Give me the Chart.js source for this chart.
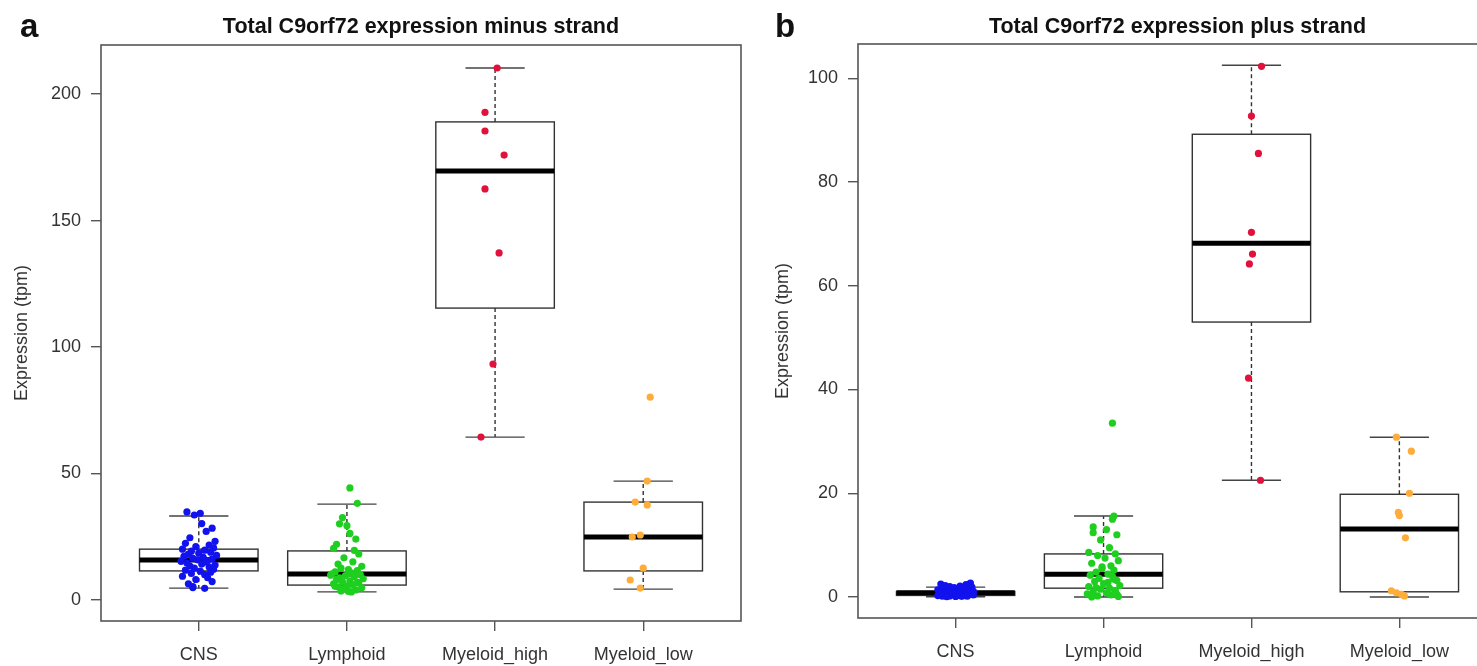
<!DOCTYPE html>
<html>
<head>
<meta charset="utf-8">
<script src="https://cdn.jsdelivr.net/npm/chart.js@4.4.1/dist/chart.umd.min.js"></script>
<style>
  html, body { margin: 0; padding: 0; background: #fff; overflow: hidden; width: 1477px; height: 666px; }
  canvas { position: absolute; top: 0; }
  #minus { left: 0; }
  #plus { left: 750px; }
</style>
</head>
<body>
<canvas id="minus" width="750" height="666"></canvas>
<canvas id="plus" width="775" height="666"></canvas>
<script>
// categories and tick labels
const categories = ["CNS", "Lymphoid", "Myeloid_high", "Myeloid_low"];
const colors = ["#1212EE", "#1FCF1F", "#E0123C", "#FFAD3A"];
const minusTicks = [0, 50, 100, 150, 200];
const plusTicks = [0, 20, 40, 60, 80, 100];

// box statistics, minus strand (per category)
const minusLo = [4.7, 3.2, 64.4, 4.3];
const minusQ1 = [11.5, 5.9, 115.4, 11.5];
const minusMed = [15.8, 10.3, 169.6, 24.9];
const minusQ3 = [20.1, 19.4, 189.0, 38.7];
const minusHi = [33.2, 37.9, 210.3, 47.0];

// box statistics, plus strand
const plusLo = [0.05, 0.0, 22.5, 0.0];
const plusQ1 = [0.3, 1.7, 53.0, 1.0];
const plusMed = [0.8, 4.4, 68.2, 13.1];
const plusQ3 = [1.05, 8.3, 89.2, 19.8];
const plusHi = [1.9, 15.6, 102.5, 30.8];

// sample values, minus strand
const minusCNS = [34.8, 34.3, 33.6, 30.2, 28.4, 27.1, 24.6, 23.2, 22.4, 21.7,
  21.1, 20.6, 20.1, 19.7, 19.3, 18.9, 18.5, 18.1, 17.7, 17.3,
  16.9, 16.5, 16.2, 15.9, 15.6, 15.3, 15.0, 14.6, 14.2, 13.8,
  13.4, 13.0, 12.6, 12.2, 11.8, 11.4, 11.0, 10.5, 10.0, 9.4,
  8.8, 8.1, 7.3, 6.4, 5.3, 4.9, 4.6];
const minusLym = [44.3, 38.2, 32.6, 30.1, 29.4, 26.3, 24.1, 22.0, 20.4, 19.6,
  18.2, 16.7, 15.1, 14.2, 13.3, 12.6, 12.0, 11.6, 11.1, 10.7,
  10.3, 10.0, 9.6, 9.2, 8.8, 8.4, 8.0, 7.6, 7.2, 6.8,
  6.4, 6.0, 5.6, 5.2, 4.8, 4.4, 4.0, 3.6, 3.2, 9.8,
  7.0, 5.4, 3.4];
const minusMyHigh = [210.3, 192.8, 185.4, 175.9, 162.5, 137.2, 93.3, 64.4];
const minusMyLow = [80.2, 47.0, 38.7, 37.6, 25.7, 24.9, 12.6, 7.9, 4.7];

// sample values, plus strand
const plusCNS = [2.7, 2.5, 2.4, 2.2, 2.1, 2.0, 1.9, 1.8, 1.7, 1.6,
  1.5, 1.4, 1.3, 1.2, 1.15, 1.1, 1.05, 1.0, 0.95, 0.9,
  0.88, 0.85, 0.82, 0.8, 0.78, 0.75, 0.72, 0.7, 0.68, 0.65,
  0.6, 0.55, 0.5, 0.45, 0.42, 0.4, 0.35, 0.3, 0.28, 0.25,
  0.2, 0.18, 0.15, 0.12, 0.1, 0.05];
const plusLym = [33.5, 15.6, 15.0, 13.5, 13.0, 12.4, 12.0, 11.0, 9.5, 8.6,
  8.3, 8.0, 7.5, 7.0, 6.5, 6.0, 5.5, 5.2, 4.8, 4.4,
  4.2, 4.0, 3.6, 3.2, 3.0, 2.6, 2.2, 2.0, 1.7, 1.5,
  1.2, 1.0, 0.8, 0.6, 0.4, 0.2, 0.1, 0.0, 2.8, 3.4,
  1.8, 0.5, 5.8];
const plusMyHigh = [102.3, 92.7, 85.5, 70.3, 66.1, 64.2, 42.2, 22.5];
const plusMyLow = [30.8, 28.1, 20.0, 16.3, 15.7, 11.4, 1.2, 0.8, 0.5, 0.2];

// horizontal jitter of each sample (category units)
const jitMinusCNS = [-0.08, 0.01, -0.03, 0.02, 0.09, 0.05, -0.06, 0.11, -0.09, 0.07,
  -0.02, 0.10, -0.11, 0.04, -0.05, 0.08, 0.00, -0.07, 0.12, -0.10,
  0.03, -0.04, 0.09, -0.01, 0.06, -0.12, 0.05, -0.08, 0.02, 0.11,
  -0.06, 0.07, -0.03, 0.10, -0.09, 0.01, 0.08, -0.05, 0.04, -0.11,
  0.06, -0.02, 0.09, -0.07, -0.04, -0.04, 0.04];
const jitMinusLym = [0.02, 0.07, -0.03, -0.05, 0.00, 0.02, 0.06, -0.07, -0.09, 0.05,
  0.08, -0.02, 0.04, -0.06, 0.10, -0.04, 0.01, 0.07, -0.08, 0.03,
  -0.10, 0.09, -0.01, 0.05, -0.05, 0.11, -0.07, 0.02, -0.03, 0.08,
  -0.09, 0.04, 0.00, -0.06, 0.10, -0.02, 0.06, -0.04, 0.03, -0.11,
  0.07, -0.08, 0.01];
const jitMinusMyHigh = [0.014, -0.068, -0.068, 0.061, -0.068, 0.027, -0.014, -0.095];
const jitMinusMyLow = [0.047, 0.027, -0.054, 0.027, -0.020, -0.074, 0.0, -0.088, -0.020];
const jitPlusCNS = [0.10, -0.10, 0.07, -0.07, 0.03, -0.04, 0.11, -0.01, 0.05, -0.08,
  0.09, -0.12, 0.02, 0.06, -0.05, 0.12, -0.09, 0.00, 0.08, -0.03,
  0.04, -0.11, 0.10, -0.06, 0.01, 0.07, -0.02, -0.08, 0.11, 0.03,
  -0.05, 0.09, -0.10, 0.05, -0.01, 0.12, -0.07, 0.02, -0.12, 0.06,
  -0.04, 0.08, -0.09, 0.04, 0.00, -0.06];
const jitPlusLym = [0.06, 0.07, 0.06, -0.07, 0.02, -0.07, 0.09, -0.02, 0.04, -0.10,
  0.08, -0.04, 0.01, 0.10, -0.08, 0.05, -0.01, 0.07, -0.05, 0.03,
  -0.09, 0.06, -0.03, 0.09, -0.06, 0.00, 0.11, -0.10, 0.04, -0.02,
  0.08, -0.07, 0.02, -0.11, 0.05, -0.04, 0.10, -0.08, 0.03, 0.07,
  -0.05, 0.09, -0.01];
const jitPlusMyHigh = [0.068, 0.0, 0.047, 0.0, 0.007, -0.014, -0.020, 0.061];
const jitPlusMyLow = [-0.020, 0.081, 0.068, -0.007, 0.0, 0.041, -0.054, -0.020, 0.014, 0.034];

const FONT = "'Liberation Sans', Arial, Helvetica, sans-serif";
const TEXT = "#333";

function points(values, jitter, idx) {
  return values.map((v, i) => ({ x: idx + 1 + jitter[i], y: v }));
}

// boxes, whiskers and medians, drawn under the points
function boxPlugin(lo, q1, med, q3, hi) {
  return {
    id: "boxes",
    beforeDatasetsDraw(chart) {
      const { ctx } = chart;
      const x = chart.scales.x, y = chart.scales.y;
      ctx.save();
      for (let i = 0; i < categories.length; i++) {
        const c = i + 1;
        const cx = x.getPixelForValue(c);
        const bl = x.getPixelForValue(c - 0.4), br = x.getPixelForValue(c + 0.4);
        const sl = x.getPixelForValue(c - 0.2), sr = x.getPixelForValue(c + 0.2);
        const yLo = y.getPixelForValue(lo[i]), yQ1 = y.getPixelForValue(q1[i]);
        const yMed = y.getPixelForValue(med[i]), yQ3 = y.getPixelForValue(q3[i]);
        const yHi = y.getPixelForValue(hi[i]);

        ctx.strokeStyle = "#333";
        ctx.lineWidth = 1.4;
        ctx.setLineDash([4, 3]);
        ctx.beginPath();
        ctx.moveTo(cx, yQ3); ctx.lineTo(cx, yHi);
        ctx.moveTo(cx, yQ1); ctx.lineTo(cx, yLo);
        ctx.stroke();
        ctx.setLineDash([]);

        ctx.strokeStyle = "#444";
        ctx.beginPath();
        ctx.moveTo(sl, yHi); ctx.lineTo(sr, yHi);
        ctx.moveTo(sl, yLo); ctx.lineTo(sr, yLo);
        ctx.stroke();

        ctx.strokeStyle = "#333";
        ctx.strokeRect(bl, yQ3, br - bl, yQ1 - yQ3);

        ctx.strokeStyle = "#000";
        ctx.lineWidth = 5;
        ctx.beginPath();
        ctx.moveTo(bl, yMed); ctx.lineTo(br, yMed);
        ctx.stroke();
      }
      ctx.restore();
    }
  };
}

// plot frame, main title and panel letter
function framePlugin(letter, letterX, title) {
  return {
    id: "frame",
    afterDraw(chart) {
      const { ctx, chartArea: a } = chart;
      ctx.save();
      ctx.strokeStyle = "#555";
      ctx.lineWidth = 1.6;
      ctx.strokeRect(a.left, a.top, a.right - a.left, a.bottom - a.top);
      ctx.fillStyle = "#111";
      ctx.textBaseline = "alphabetic";
      ctx.textAlign = "center";
      ctx.font = "bold 21.5px " + FONT;
      ctx.fillText(title, (a.left + a.right) / 2, 33);
      ctx.textAlign = "left";
      ctx.font = "bold 33px " + FONT;
      ctx.fillText(letter, letterX, 37);
      ctx.restore();
    }
  };
}

function makeChart(id, opts) {
  const datasets = opts.groups.map((g, i) => ({
    data: points(g[0], g[1], i),
    backgroundColor: colors[i],
    borderWidth: 0,
    pointRadius: 3.6,
    pointHoverRadius: 3.6
  }));
  return new Chart(document.getElementById(id), {
    type: "scatter",
    data: { datasets },
    plugins: [opts.boxes, opts.frame],
    options: {
      responsive: false,
      animation: false,
      events: [],
      layout: { padding: { top: opts.top, right: opts.right, left: 0, bottom: 0 } },
      plugins: { legend: { display: false }, tooltip: { enabled: false } },
      scales: {
        x: {
          type: "linear",
          min: 0.34,
          max: 4.66,
          afterBuildTicks: (s) => { s.ticks = categories.map((c, i) => ({ value: i + 1 })); },
          afterFit: (s) => { s.height = opts.xHeight; },
          border: { display: false },
          grid: { drawOnChartArea: false, drawTicks: true, tickLength: 10, color: "#555", lineWidth: 1.4 },
          ticks: {
            padding: 13,
            color: TEXT,
            font: { family: FONT, size: 18 },
            maxRotation: 0,
            autoSkip: false,
            callback: (v) => categories[Math.round(v) - 1]
          }
        },
        y: {
          min: opts.yMin,
          max: opts.yMax,
          afterBuildTicks: (s) => { s.ticks = opts.yTicks.map((v) => ({ value: v })); },
          afterFit: (s) => { s.width = opts.yWidth; },
          border: { display: false },
          grid: { drawOnChartArea: false, drawTicks: true, tickLength: 10, color: "#555", lineWidth: 1.4 },
          ticks: { padding: 10, color: TEXT, font: { family: FONT, size: 18 } },
          title: {
            display: true,
            text: "Expression (tpm)",
            color: TEXT,
            font: { family: FONT, size: 18 },
            padding: { top: opts.titlePad, bottom: 0 }
          }
        }
      }
    }
  });
}

makeChart("minus", {
  groups: [[minusCNS, jitMinusCNS], [minusLym, jitMinusLym], [minusMyHigh, jitMinusMyHigh], [minusMyLow, jitMinusMyLow]],
  boxes: boxPlugin(minusLo, minusQ1, minusMed, minusQ3, minusHi),
  frame: framePlugin("a", 20, "Total C9orf72 expression minus strand"),
  yTicks: minusTicks, yMin: -8.3, yMax: 219.4,
  top: 45, right: 9, xHeight: 45, yWidth: 101, titlePad: 11
});

makeChart("plus", {
  groups: [[plusCNS, jitPlusCNS], [plusLym, jitPlusLym], [plusMyHigh, jitPlusMyHigh], [plusMyLow, jitPlusMyLow]],
  boxes: boxPlugin(plusLo, plusQ1, plusMed, plusQ3, plusHi),
  frame: framePlugin("b", 25, "Total C9orf72 expression plus strand"),
  yTicks: plusTicks, yMin: -4.05, yMax: 106.6,
  top: 44, right: 28, xHeight: 48, yWidth: 108, titlePad: 22
});
</script>
</body>
</html>
